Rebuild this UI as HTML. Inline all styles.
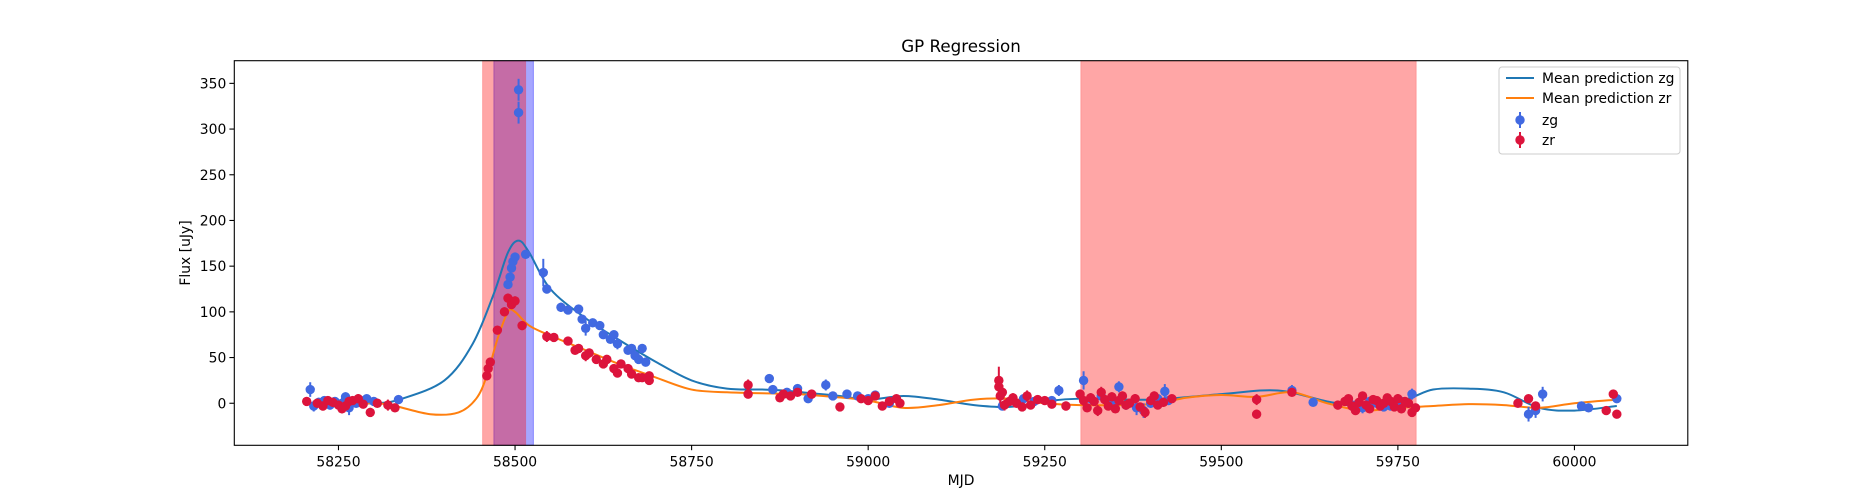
<!DOCTYPE html>
<html><head><meta charset="utf-8"><style>
body{margin:0;background:#fff;}
svg{display:block;font-family:"DejaVu Sans","Liberation Sans",sans-serif;}
</style></head><body>
<svg id="chart" width="1875" height="500">
<rect width="1875" height="500" fill="#fff"/>
<g id="spans"></g>
<g id="curves"></g>
<g id="points"></g>
<rect x="234.3" y="60.7" width="1453.5" height="384.6" fill="none" stroke="#000" stroke-width="1.1"/>
<g id="xticks"></g>
<g id="yticks"></g>
<text x="961" y="52" font-size="16.7" text-anchor="middle">GP Regression</text>
<text x="961" y="485" font-size="13.9" text-anchor="middle">MJD</text>
<text transform="translate(190,253) rotate(-90)" font-size="13.9" text-anchor="middle">Flux [uJy]</text>
<g>
<rect x="1499" y="67" width="181" height="87" rx="3" fill="#fff" fill-opacity="0.8" stroke="#ccc"/>
<g><line x1="1506" y1="78" x2="1534" y2="78" stroke="#1f77b4" stroke-width="2"/><text x="1542" y="83" font-size="13.9">Mean prediction zg</text></g>
<g><line x1="1506" y1="98" x2="1534" y2="98" stroke="#ff7f0e" stroke-width="2"/><text x="1542" y="103" font-size="13.9">Mean prediction zr</text></g>
<g><line x1="1520" y1="112" x2="1520" y2="128" stroke="#4169e1" stroke-width="2"/><circle cx="1520" cy="120" r="4.7" fill="#4169e1"/><text x="1542" y="125" font-size="13.9">zg</text></g>
<g><line x1="1520" y1="132" x2="1520" y2="148" stroke="#dc143c" stroke-width="2"/><circle cx="1520" cy="140" r="4.7" fill="#dc143c"/><text x="1542" y="145" font-size="13.9">zr</text></g>
</g>
</svg>
<script>
const xTicks=[58250,58500,58750,59000,59250,59500,59750,60000];
const yTicks=[0,50,100,150,200,250,300,350];
const spanBlue=[[58470,58526]];
const spanRed=[[58454,58515],[59301,59776]];
const zgPoints=[[58210,15,8],[58215,-3,6],[58222,1,5],[58230,3,4],[58238,-2,5],[58245,2,4],[58255,0,6],[58260,7,5],[58265,-5,8],[58275,0,4],[58282,3,5],[58290,5,4],[58300,2,4],[58335,4,4],
[58505,343,12],[58505,318,12],[58490,130,5],[58493,138,5],[58495,148,5],[58497,155,5],[58500,160,5],[58515,163,5],[58540,143,15],[58545,125,5],
[58565,105,5],[58575,102,4],[58590,103,4],[58595,92,4],[58600,82,8],[58610,88,4],[58620,85,4],[58625,75,4],[58635,70,4],[58640,75,4],[58645,65,6],
[58660,58,4],[58665,60,4],[58670,52,4],[58675,48,4],[58680,60,4],[58685,45,4],[58860,27,4],[58865,15,4],[58885,12,4],[58900,16,4],[58915,5,4],
[58940,20,6],[58950,8,4],[58970,10,4],[58985,8,4],[59000,5,4],[59010,9,4],[59030,0,4],[59190,-3,4],[59220,5,4],[59235,2,4],[59260,3,4],[59270,14,6],
[59305,25,10],[59315,5,6],[59330,8,4],[59345,2,5],[59355,18,6],[59365,-2,5],[59380,-5,8],[59390,-8,8],[59400,0,5],[59410,5,4],[59420,13,8],[59425,3,4],[59600,14,6],[59630,1,4],[59680,3,4],
[59690,-2,5],[59700,-5,6],[59710,2,5],[59720,0,4],[59730,-4,5],[59740,-3,4],[59755,2,5],[59770,10,6],[59935,-12,8],[59945,-8,8],[59955,10,8],[60010,-3,4],[60020,-5,4],[60060,5,4]];
const zrPoints=[[58205,2,4],[58220,0,4],[58228,-3,5],[58235,3,4],[58242,1,5],[58250,-2,4],[58255,-6,5],[58260,-3,4],[58265,2,5],[58270,3,4],[58278,5,5],[58285,-1,4],[58295,-10,5],[58305,0,4],[58320,-2,6],[58330,-5,4],
[58460,30,5],[58462,38,5],[58465,45,5],[58475,80,4],[58485,100,5],[58490,115,5],[58495,108,5],[58500,112,5],[58510,85,5],[58545,73,6],[58555,72,4],
[58575,68,4],[58585,58,4],[58590,60,4],[58600,52,6],[58605,55,4],[58615,48,4],[58625,43,4],[58630,48,4],[58640,38,4],[58645,33,4],[58650,43,4],
[58660,38,4],[58665,32,4],[58675,28,4],[58680,28,4],[58690,30,4],[58690,25,4],[58830,20,6],[58830,10,4],[58875,6,4],[58880,10,4],[58890,8,4],
[58900,12,4],[58920,10,4],[58960,-4,4],[58990,5,4],[59000,3,4],[59010,8,4],[59020,-3,4],[59030,2,5],[59040,5,4],[59045,0,4],[59185,25,15],[59185,18,8],[59187,8,8],[59190,12,8],[59193,-2,6],
[59200,2,4],[59205,6,5],[59210,0,4],[59218,-4,5],[59225,8,6],[59230,-2,4],[59240,4,5],[59250,3,4],[59260,-1,4],[59280,-3,5],[59300,10,5],[59305,3,6],[59310,-5,4],[59315,6,5],[59320,2,4],[59325,-8,6],[59330,12,6],
[59335,4,5],[59340,-3,4],[59345,7,5],[59350,-6,4],[59355,3,5],[59360,8,5],[59365,-2,5],[59370,0,4],[59378,5,5],[59385,-4,4],[59392,-10,6],[59400,3,4],[59405,8,5],[59410,-2,4],[59418,1,5],[59430,5,4],[59550,4,6],[59550,-12,5],[59600,12,4],
[59665,-2,5],[59675,2,5],[59680,5,4],[59685,-3,5],[59690,-8,4],[59695,1,5],[59700,8,4],[59705,-2,5],[59710,-6,4],[59715,4,5],[59720,3,4],[59725,-3,5],[59730,0,5],[59735,6,4],[59740,2,5],[59745,-4,4],[59750,5,5],[59755,-6,5],[59760,2,4],[59765,0,5],[59770,-10,4],[59775,-5,4],
[59920,0,4],[59935,5,4],[59945,-3,4],[60045,-8,4],[60055,10,4],[60060,-12,4]];
const zgMeanX=[58210,58300,58340,58400,58440,58470,58490,58505,58520,58550,58600,58650,58700,58750,58800,58850,58880,58920,58960,59000,59050,59100,59150,59200,59250,59300,59400,59500,59580,59650,59700,59760,59800,59850,59900,59950,60000,60060];
const zgMeanY=[0,0,5,25,65,120,165,178,165,125,93,68,45,25,16,15,14,11,8,4,8,4,-2,-4,2,5,4,10,14,2,-3,4,15,16,12,-5,-8,-3];
const zrMeanX=[58210,58300,58330,58380,58420,58445,58460,58475,58490,58500,58520,58550,58600,58650,58700,58750,58800,58850,58900,58950,59000,59050,59100,59150,59200,59250,59300,59400,59450,59500,59550,59600,59650,59700,59750,59800,59850,59900,59950,60000,60060];
const zrMeanY=[0,0,-3,-12,-10,5,30,70,100,100,85,74,58,42,28,15,12,11,10,7,3,-5,-2,4,5,0,-2,-1,6,9,7,12,0,-8,-5,-3,-1,-2,-5,0,4];

const X0=234.3,X1=1687.8,Y0=445.3,Y1=60.7,XMIN=58102.5,XMAX=60160.5,YMIN=-46,YMAX=374.8;
const sx=v=>X0+(v-XMIN)/(XMAX-XMIN)*(X1-X0);
const sy=v=>Y0-(v-YMIN)/(YMAX-YMIN)*(Y0-Y1);
const NS='http://www.w3.org/2000/svg';
function mk(tag,attrs,parent){const e=document.createElementNS(NS,tag);for(const k in attrs)e.setAttribute(k,attrs[k]);parent.appendChild(e);return e;}

const spans=document.getElementById('spans');
spanBlue.forEach(s=>{const r=mk('rect',{x:sx(s[0]),y:Y1,width:sx(s[1])-sx(s[0]),height:Y0-Y1,fill:'#0000ff','fill-opacity':0.35,stroke:'#0000ff','stroke-opacity':0.35},spans);

});
spanRed.forEach(s=>{const r=mk('rect',{x:sx(s[0]),y:Y1,width:sx(s[1])-sx(s[0]),height:Y0-Y1,fill:'#ff0000','fill-opacity':0.35,stroke:'#ff0000','stroke-opacity':0.2},spans);

});

function smooth(xs,ys){const p=xs.map((x,i)=>[sx(x),sy(ys[i])]);let d='M'+p[0][0]+','+p[0][1];
for(let i=0;i<p.length-1;i++){const a=p[Math.max(0,i-1)],b=p[i],c=p[i+1],e=p[Math.min(p.length-1,i+2)];
d+=' C'+(b[0]+(c[0]-a[0])/6)+','+(b[1]+(c[1]-a[1])/6)+' '+(c[0]-(e[0]-b[0])/6)+','+(c[1]-(e[1]-b[1])/6)+' '+c[0]+','+c[1];}return d;}
const curves=document.getElementById('curves');
const c1=mk('path',{d:smooth(zgMeanX,zgMeanY),fill:'none',stroke:'#1f77b4','stroke-width':2},curves);


const c2=mk('path',{d:smooth(zrMeanX,zrMeanY),fill:'none',stroke:'#ff7f0e','stroke-width':2},curves);



const pts=document.getElementById('points');
function drawPts(arr,color,name){arr.forEach(p=>{const g=mk('g',{},pts);


mk('line',{x1:sx(p[0]),x2:sx(p[0]),y1:sy(p[1]-p[2]),y2:sy(p[1]+p[2]),stroke:color,'stroke-width':2},g);
mk('circle',{cx:sx(p[0]),cy:sy(p[1]),r:4.7,fill:color},g);});}
drawPts(zgPoints,'#4169e1','zg-point');
drawPts(zrPoints,'#dc143c','zr-point');

const xt=document.getElementById('xticks');
xTicks.forEach(t=>{const x=sx(t);mk('line',{x1:x,x2:x,y1:Y0,y2:Y0+4.9,stroke:'#000','stroke-width':1.1},xt);
const tx=mk('text',{x:x,y:Y0+21,'font-size':13.9,'text-anchor':'middle'},xt);tx.textContent=t;

});
const yt=document.getElementById('yticks');
yTicks.forEach(t=>{const y=sy(t);mk('line',{x1:X0-4.9,x2:X0,y1:y,y2:y,stroke:'#000','stroke-width':1.1},yt);
const tx=mk('text',{x:X0-8,y:y+5,'font-size':13.9,'text-anchor':'end'},yt);tx.textContent=t;

});
</script>
</body></html>
